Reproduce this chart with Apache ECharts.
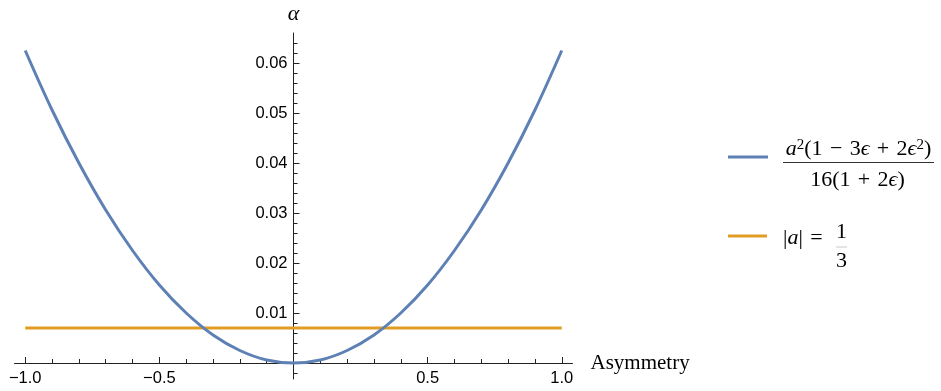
<!DOCTYPE html>
<html>
<head>
<meta charset="utf-8">
<style>
  html, body { margin: 0; padding: 0; background: #fff; }
  #chart { width: 941px; height: 391px; }
</style>
<script src="https://cdn.jsdelivr.net/npm/echarts@6/dist/echarts.min.js"></script>
</head>
<body>
<div id="chart"></div>
<script>
// Asymmetry values along the horizontal axis
const asymmetry = [-1.0, -0.9, -0.8, -0.7, -0.6, -0.5, -0.4, -0.3, -0.2, -0.1, 0.0,
                   0.1, 0.2, 0.3, 0.4, 0.5, 0.6, 0.7, 0.8, 0.9, 1.0];
// alpha for the general expression (blue curve)
const alphaCurve = [0.0625, 0.0506, 0.0400, 0.0306, 0.0225, 0.0156, 0.0100, 0.0056, 0.0025, 0.0006, 0.0,
                    0.0006, 0.0025, 0.0056, 0.0100, 0.0156, 0.0225, 0.0306, 0.0400, 0.0506, 0.0625];
// constant level for |a| = 1/3 (orange line)
const flatX = [-1.0, 1.0];
const flatAlpha = [0.0070, 0.0070];

// tick labels
const xTickValues = [-1.0, -0.5, 0.5, 1.0];
const xTickLabels = ['\u22121.0', '\u22120.5', '0.5', '1.0'];
const yTickValues = [0.01, 0.02, 0.03, 0.04, 0.05, 0.06];
const yTickLabels = ['0.01', '0.02', '0.03', '0.04', '0.05', '0.06'];

const BLUE = '#5E81B5';
const ORANGE = '#E19C24';
const AXIS = '#222';
const SERIF = '"Liberation Serif", "Times New Roman", "DejaVu Serif", serif';
const SANS = '"Liberation Sans", Arial, "DejaVu Sans", sans-serif';

// plot area and ranges
const W = 941, H = 391;
const gridLeft = 14.5, gridRight = 368.5, gridTop = 33, gridBottom = 12;
const xMin = -1.04, xMax = 1.04;
const yMin = -0.0032, yMax = 0.066;
const gridW = W - gridLeft - gridRight;
const gridH = H - gridTop - gridBottom;
// shift each axis so it crosses the other at zero
const yAxisOffset = -((0 - xMin) / (xMax - xMin)) * gridW;
const xAxisOffset = -((0 - yMin) / (yMax - yMin)) * gridH;

function lookup(values, labels) {
  return function (v) {
    for (let i = 0; i < values.length; i++) {
      if (Math.abs(values[i] - v) < 1e-9) return labels[i];
    }
    return '';
  };
}

const mathRich = {
  i: { fontFamily: SERIF, fontStyle: 'italic', fontSize: 22, fill: '#000' },
  s: { fontFamily: SERIF, fontSize: 15, fill: '#000', verticalAlign: 'top' }
};
const SP = '\u2004';
const MATH_FONT = '22px ' + SERIF;

const chart = echarts.init(document.getElementById('chart'), null, { renderer: 'canvas' });

chart.setOption({
  backgroundColor: '#fff',
  animation: false,
  grid: {
    left: gridLeft, right: gridRight, top: gridTop, bottom: gridBottom,
    containLabel: false,
    outerBoundsMode: 'none'
  },
  xAxis: {
    type: 'value',
    min: xMin, max: xMax,
    splitNumber: 4,
    position: 'bottom',
    offset: xAxisOffset,
    name: 'Asymmetry',
    nameLocation: 'end',
    nameGap: 18,
    nameTextStyle: { fontFamily: SERIF, fontSize: 21, color: '#000' },
    axisLine: { show: true, onZero: false, lineStyle: { color: AXIS, width: 1 } },
    axisTick: { show: true, inside: true, length: 6, lineStyle: { color: AXIS, width: 1 },
                customValues: [-1.0, -0.5, 0, 0.5, 1.0] },
    minorTick: { show: true, splitNumber: 5, length: 4, lineStyle: { color: AXIS, width: 1 } },
    axisLabel: {
      show: true, margin: 7, color: '#000', fontFamily: SANS, fontSize: 16.5,
      showMinLabel: false, showMaxLabel: false,
      formatter: lookup(xTickValues, xTickLabels)
    },
    splitLine: { show: false },
    minorSplitLine: { show: false }
  },
  yAxis: {
    type: 'value',
    min: yMin, max: yMax,
    splitNumber: 7,
    position: 'left',
    offset: yAxisOffset,
    name: '\u03B1',
    nameLocation: 'end',
    nameGap: 8,
    nameTextStyle: { fontFamily: SERIF, fontStyle: 'italic', fontSize: 22, color: '#000' },
    axisLine: { show: true, onZero: false, lineStyle: { color: AXIS, width: 1 } },
    axisTick: { show: true, inside: true, length: 6, lineStyle: { color: AXIS, width: 1 },
                customValues: [0, 0.01, 0.02, 0.03, 0.04, 0.05, 0.06] },
    minorTick: { show: true, splitNumber: 5, length: 4, lineStyle: { color: AXIS, width: 1 } },
    axisLabel: {
      show: true, margin: 6, color: '#000', fontFamily: SANS, fontSize: 16.5,
      showMinLabel: false, showMaxLabel: false,
      formatter: lookup(yTickValues, yTickLabels)
    },
    splitLine: { show: false },
    minorSplitLine: { show: false }
  },
  series: [
    {
      name: 'general',
      type: 'line',
      data: asymmetry.map((x, i) => [x, alphaCurve[i]]),
      smooth: 0.35,
      showSymbol: false,
      lineStyle: { color: BLUE, width: 3 },
      itemStyle: { color: BLUE },
      z: 3
    },
    {
      name: 'third',
      type: 'line',
      data: flatX.map((x, i) => [x, flatAlpha[i]]),
      showSymbol: false,
      lineStyle: { color: ORANGE, width: 3 },
      itemStyle: { color: ORANGE },
      z: 2
    }
  ],
  graphic: [
    // legend entry: general expression
    { type: 'line', shape: { x1: 728, y1: 157, x2: 768, y2: 157 },
      style: { stroke: BLUE, lineWidth: 3 } },
    { type: 'text', x: 858.5, y: 149,
      style: {
        text: '{i|a}{s|2}(1' + SP + '\u2212' + SP + '3{i|\u03F5}' + SP + '+' + SP + '2{i|\u03F5}{s|2})',
        rich: mathRich,
        font: MATH_FONT, fill: '#000', align: 'center', verticalAlign: 'middle'
      } },
    { type: 'line', shape: { x1: 783, y1: 162.5, x2: 934, y2: 162.5 },
      style: { stroke: '#333', lineWidth: 1.2 } },
    { type: 'text', x: 857.5, y: 180,
      style: {
        text: '16(1' + SP + '+' + SP + '2{i|\u03F5})',
        rich: mathRich,
        font: MATH_FONT, fill: '#000', align: 'center', verticalAlign: 'middle'
      } },
    // legend entry: |a| = 1/3
    { type: 'line', shape: { x1: 728, y1: 236, x2: 767, y2: 236 },
      style: { stroke: ORANGE, lineWidth: 3 } },
    { type: 'text', x: 783, y: 238,
      style: {
        text: '|{i|a}|' + SP + '=',
        rich: mathRich,
        font: MATH_FONT, fill: '#000', align: 'left', verticalAlign: 'middle'
      } },
    { type: 'text', x: 841.5, y: 232,
      style: { text: '1', font: MATH_FONT, fill: '#000', align: 'center', verticalAlign: 'middle' } },
    { type: 'line', shape: { x1: 836, y1: 247, x2: 847, y2: 247 },
      style: { stroke: '#bbb', lineWidth: 0.8 } },
    { type: 'text', x: 841.5, y: 261,
      style: { text: '3', font: MATH_FONT, fill: '#000', align: 'center', verticalAlign: 'middle' } }
  ]
});
</script>
</body>
</html>
